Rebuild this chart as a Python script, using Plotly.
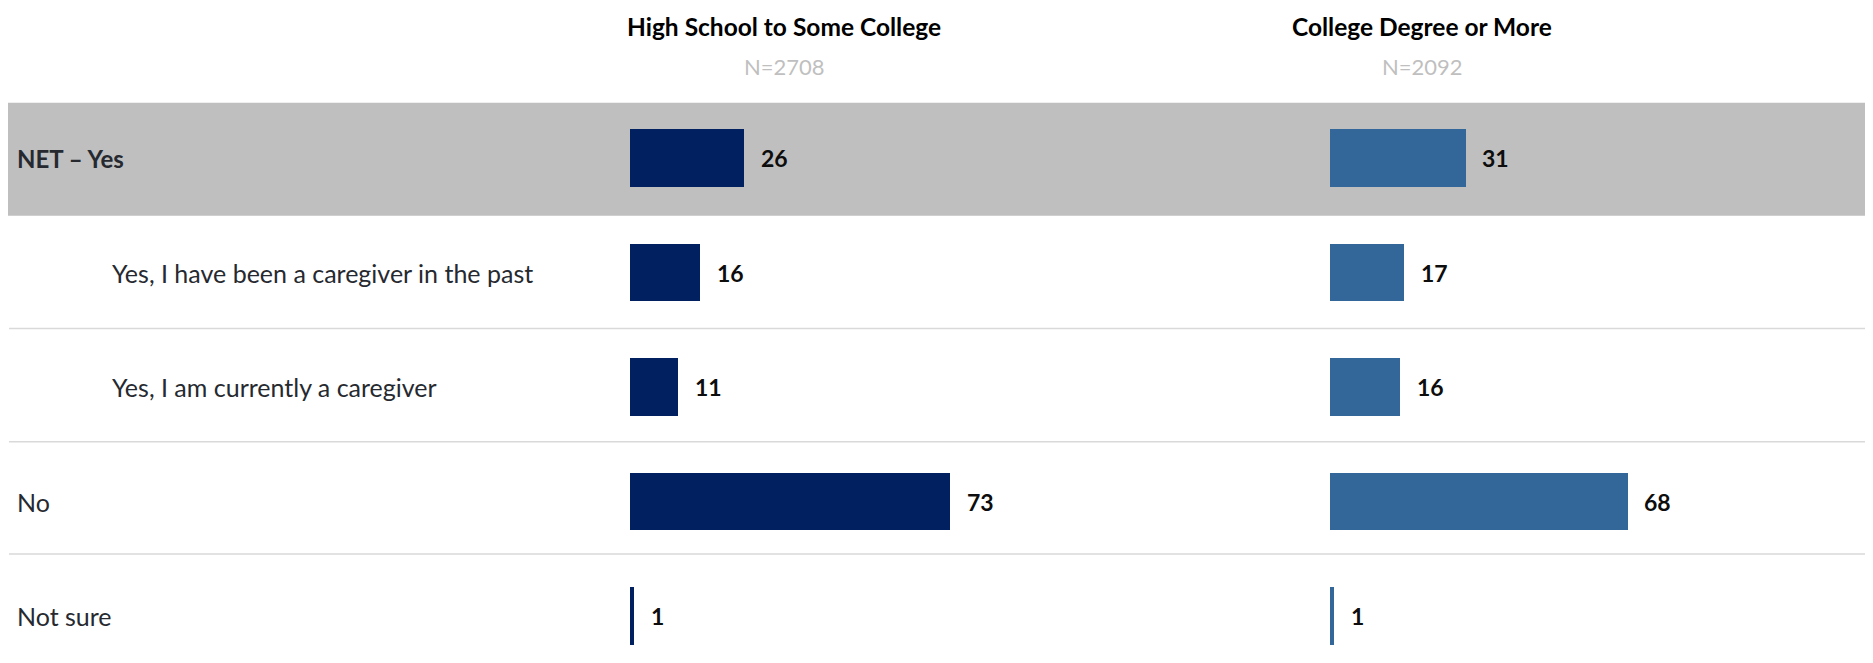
import plotly.graph_objects as go

# ---- data ----
categories = [
    "NET – Yes",
    "Yes, I have been a caregiver in the past",
    "Yes, I am currently a caregiver",
    "No",
    "Not sure",
]
indented = [False, True, True, False, False]
bold_rows = [True, False, False, False, False]
groups = ["High School to Some College", "College Degree or More"]
sample_sizes = ["N=2708", "N=2092"]
hs_values = [26, 16, 11, 73, 1]
college_values = [31, 17, 16, 68, 1]

# ---- layout constants (pixels, page coordinates) ----
W, H = 1873, 663
OFF = 8  # page margin offset
FONT = "Lato"
PX_PER_UNIT = 4.38
XMAX = 120
P1_LEFT, P2_LEFT = 630 - OFF, 1329.5 - OFF
ROW0_CENTER, ROW_PITCH = 158 - OFF, 114.5
COLORS = ["#002060", "#336699"]


def px(pix):
    return (pix - OFF) / W


def py(pix):
    return 1 - (pix - OFF) / H


y_pos = list(range(len(categories)))

fig = go.Figure()
for k, (vals, col) in enumerate([(hs_values, COLORS[0]), (college_values, COLORS[1])]):
    fig.add_trace(go.Bar(
        x=vals, y=y_pos, orientation="h", width=0.5,
        marker=dict(color=col, line=dict(width=0)),
        xaxis="x" if k == 0 else "x2", yaxis="y",
        hoverinfo="skip", showlegend=False,
    ))

annotations = []
# value labels
for k, vals in enumerate([hs_values, college_values]):
    for i, v in enumerate(vals):
        annotations.append(dict(
            x=v, y=i, xref="x" if k == 0 else "x2", yref="y",
            text=f"<b>{v}</b>", showarrow=False, xanchor="left", yanchor="middle",
            xshift=15, font=dict(family=FONT, size=23, color="#0d0d0d"),
        ))
# category labels
for i, c in enumerate(categories):
    x_pix = 110 if indented[i] else 15
    annotations.append(dict(
        x=px(x_pix), y=i, xref="paper", yref="y",
        text=f"<b>{c}</b>" if bold_rows[i] else c,
        showarrow=False, xanchor="left", yanchor="middle",
        font=dict(family=FONT, size=24 if bold_rows[i] else 25, color="#262a30"),
    ))
# headers
for g, n, cx in zip(groups, sample_sizes, [784, 1422]):
    annotations.append(dict(
        x=px(cx), y=py(26), xref="paper", yref="paper", text=f"<b>{g}</b>",
        showarrow=False, xanchor="center", yanchor="middle",
        font=dict(family=FONT, size=24.5, color="#000000"),
    ))
    annotations.append(dict(
        x=px(cx), y=py(66), xref="paper", yref="paper", text=n,
        showarrow=False, xanchor="center", yanchor="middle",
        font=dict(family=FONT, size=22, color="#bfbfbf"),
    ))

shapes = [
    dict(type="rect", xref="paper", yref="paper", x0=0, x1=1,
         y0=py(215.7), y1=py(102.7), fillcolor="#bfbfbf", line=dict(width=0), layer="below"),
]
for gy in [328.5, 441.7, 554]:
    shapes.append(dict(type="line", xref="paper", yref="paper", x0=px(9), x1=1,
                       y0=py(gy), y1=py(gy), line=dict(color="#d9d9d9", width=1.5), layer="below"))

axis_common = dict(showgrid=False, zeroline=False, showticklabels=False, showline=False,
                   ticks="", range=[0, XMAX], fixedrange=True)
fig.update_layout(
    width=W, height=H,
    margin=dict(l=0, r=0, t=0, b=0),
    paper_bgcolor="white", plot_bgcolor="rgba(0,0,0,0)",
    xaxis=dict(domain=[P1_LEFT / W, (P1_LEFT + PX_PER_UNIT * XMAX) / W], **axis_common),
    xaxis2=dict(domain=[P2_LEFT / W, (P2_LEFT + PX_PER_UNIT * XMAX) / W], anchor="y", **axis_common),
    yaxis=dict(range=[(H - ROW0_CENTER) / ROW_PITCH, -ROW0_CENTER / ROW_PITCH],
               showgrid=False, zeroline=False, showticklabels=False, showline=False,
               ticks="", fixedrange=True),
    bargap=0,
    annotations=annotations,
    shapes=shapes,
    font=dict(family=FONT),
)

fig.write_html("out.html")
